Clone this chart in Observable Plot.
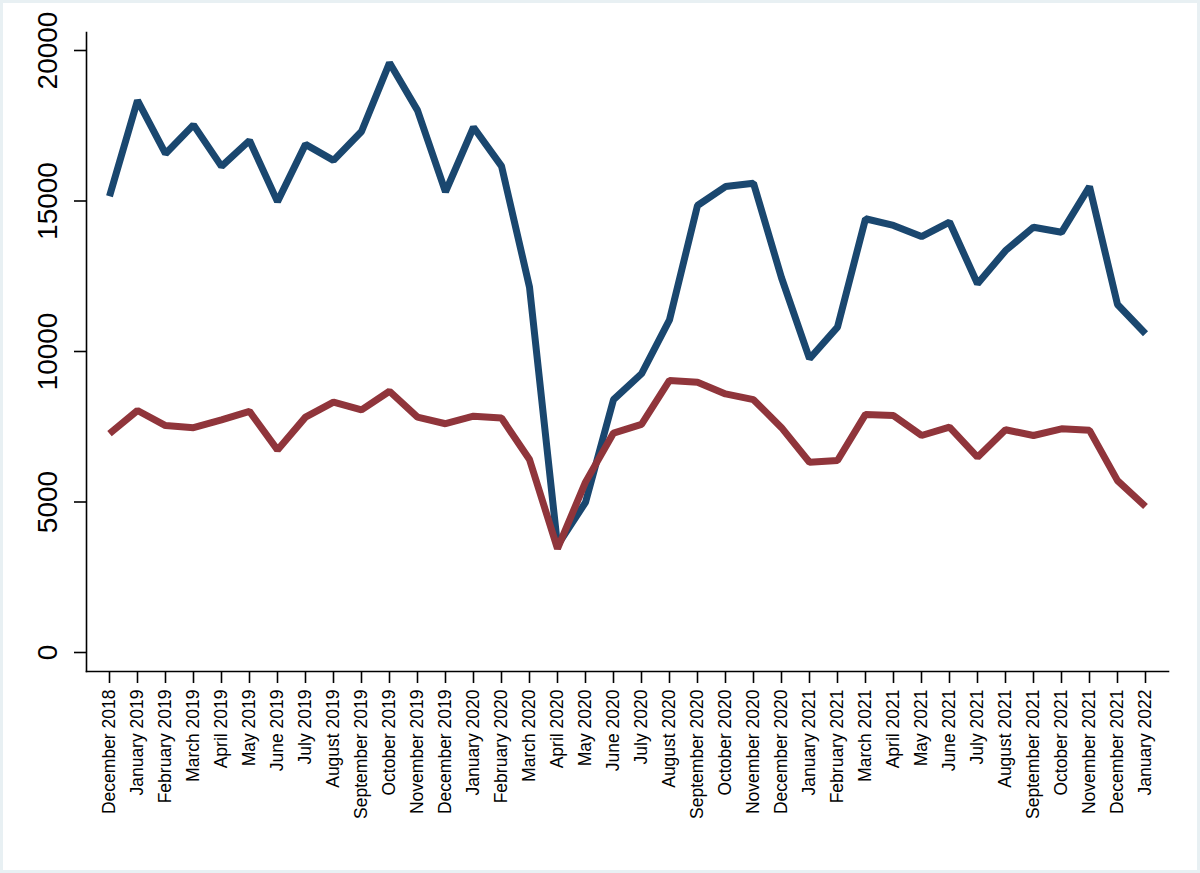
<!DOCTYPE html>
<html><head><meta charset="utf-8">
<script src="https://cdn.jsdelivr.net/npm/d3@7"></script>
<script src="https://cdn.jsdelivr.net/npm/@observablehq/plot@0.6"></script>
<style>
html,body{margin:0;padding:0;background:#fff;}
#wrap{position:relative;width:1200px;height:873px;overflow:hidden;background:#fff;}
#wrap svg{position:absolute;left:0;top:0;}
#border{position:absolute;left:0;top:0;right:0;bottom:0;border:3px solid #e8f0f3;pointer-events:none;}
</style></head><body><div id="wrap"><div id="border"></div></div>
<script>
const months = [
  "December 2018","January 2019","February 2019","March 2019","April 2019","May 2019","June 2019",
  "July 2019","August 2019","September 2019","October 2019","November 2019","December 2019",
  "January 2020","February 2020","March 2020","April 2020","May 2020","June 2020","July 2020",
  "August 2020","September 2020","October 2020","November 2020","December 2020","January 2021",
  "February 2021","March 2021","April 2021","May 2021","June 2021","July 2021","August 2021",
  "September 2021","October 2021","November 2021","December 2021","January 2022"
];
const seriesA = [
  15160,18340,16570,17530,16150,17010,14980,16880,16350,17310,19590,18010,15300,
  17450,16160,12140,3560,4990,8400,9260,11050,14850,15480,15590,12450,9760,
  10810,14410,14190,13820,14300,12250,13350,14130,13960,15480,11560,10590
];
const seriesB = [
  7270,8040,7540,7470,7730,8010,6730,7820,8320,8060,8680,7820,7600,
  7850,7790,6410,3450,5660,7290,7580,9040,8980,8590,8400,7470,6320,
  6380,7910,7870,7210,7490,6490,7400,7210,7430,7380,5710,4850
];
const seriesNames = ["A","B"];
const yTicks = [0,5000,10000,15000,20000];

const data = months.flatMap((m,i)=>[
  {month:m, value:seriesA[i], series:seriesNames[0]},
  {month:m, value:seriesB[i], series:seriesNames[1]}
]);

const chart = Plot.plot({
  width:1200, height:873,
  marginLeft:86, marginRight:32, marginTop:32, marginBottom:202,
  style:{fontFamily:"'Liberation Sans', Arial, Helvetica, sans-serif", background:"transparent", color:"black", overflow:"visible"},
  x:{type:"point", domain:months, padding:0, inset:19},
  y:{domain:[0,20000], insetTop:18, insetBottom:19},
  color:{domain:seriesNames, range:["#1a476f","#90353b"]},
  marks:[
    Plot.line(data.filter(d=>d.series===seriesNames[0]), {x:"month", y:"value", stroke:"series", strokeWidth:7, strokeLinejoin:"miter", strokeLinecap:"butt"}),
    Plot.line(data.filter(d=>d.series===seriesNames[1]), {x:"month", y:"value", stroke:"series", strokeWidth:7, strokeLinejoin:"miter", strokeLinecap:"butt"}),
    Plot.frame({anchor:"left", stroke:"black", strokeWidth:1.6}),
    Plot.frame({anchor:"bottom", stroke:"black", strokeWidth:1.6}),
    Plot.axisX({tickRotate:-90, tickSize:12, tickPadding:6, fontSize:17.5, label:null, strokeWidth:1.6}),
    Plot.axisY({ticks:yTicks, tickFormat:d=>String(d), tickRotate:-90, tickSize:12, tickPadding:18, fontSize:28, label:null, strokeWidth:1.6})
  ]
});
document.getElementById("wrap").insertBefore(chart, document.getElementById("border"));
</script>
</body></html>
